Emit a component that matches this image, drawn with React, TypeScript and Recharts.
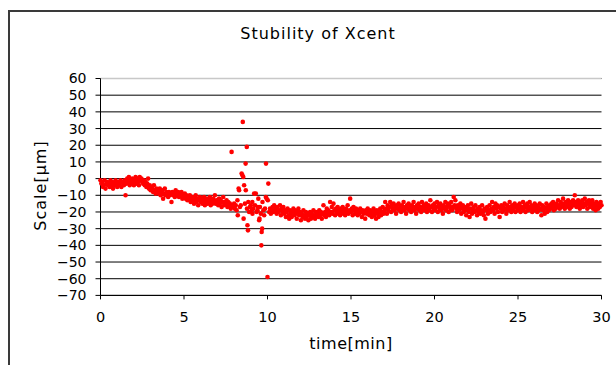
import { CartesianGrid, ReferenceLine, Scatter, ScatterChart, XAxis, YAxis } from "recharts";

// [time (min), scale (µm)], split by stretch of the run
const warmup: [number, number][] = [
  [0, -1], [0.05, -3], [0.1, -2], [0.15, -5], [0.2, -4], [0.25, -1], [0.3, -6], [0.35, -3], [0.4, -2], [0.45, -4],
  [0.5, -3], [0.55, -5], [0.6, -1], [0.65, -4], [0.7, -2], [0.75, -6], [0.8, -3], [0.85, -4], [0.9, -1], [0.95, -3],
  [1.0, -5], [1.05, -2], [1.1, -4], [1.15, -3], [1.2, -1], [1.25, -5], [1.3, -2], [1.35, -3], [1.4, -4], [1.45, -1],
  [1.5, -10], [1.55, -3], [1.6, 0], [1.65, -2], [1.7, 1], [1.75, -4], [1.8, -1], [1.85, -3], [1.9, 0], [1.95, -2],
  [2.0, -4], [2.05, -1], [2.1, 1], [2.15, -3], [2.2, 0], [2.25, -2], [2.3, -4], [2.35, 1], [2.4, -1], [2.45, 0],
  [2.5, -2], [2.55, -3], [2.6, -1], [2.65, -4], [2.7, -2], [2.75, -5], [2.8, -3], [2.85, 0], [2.9, -6], [2.95, -4],
  [3.0, -7], [3.05, -5], [3.1, -6], [3.15, -8], [3.2, -4], [3.25, -7], [3.3, -9], [3.35, -6], [3.4, -8], [3.45, -7],
  [3.5, -9], [3.55, -6], [3.6, -10], [3.65, -8], [3.7, -7], [3.75, -12], [3.8, -9], [3.85, -6], [3.9, -10], [3.95, -8],
  [4.0, -9], [4.05, -11], [4.1, -8], [4.15, -10], [4.2, -9], [4.25, -14], [4.3, -8], [4.35, -10], [4.4, -9], [4.45, -11],
  [4.5, -7], [4.55, -10], [4.6, -9], [4.65, -8], [4.7, -11], [4.75, -9], [4.8, -10], [4.85, -8], [4.9, -12], [4.95, -10],
];

const settling: [number, number][] = [
  [5.0, -11], [5.05, -9], [5.1, -12], [5.15, -10], [5.2, -13], [5.25, -11], [5.3, -12], [5.35, -10], [5.4, -14], [5.45, -12],
  [5.5, -11], [5.55, -13], [5.6, -15], [5.65, -12], [5.7, -10], [5.75, -14], [5.8, -12], [5.85, -16], [5.9, -13], [5.95, -11],
  [6.0, -14], [6.05, -12], [6.1, -15], [6.15, -13], [6.2, -11], [6.25, -16], [6.3, -14], [6.35, -12], [6.4, -15], [6.45, -13],
  [6.5, -14], [6.55, -11], [6.6, -16], [6.65, -13], [6.7, -15], [6.75, -12], [6.8, -14], [6.85, -10], [6.9, -15], [6.95, -13],
  [7.0, -14], [7.05, -16], [7.1, -12], [7.15, -15], [7.2, -13], [7.25, -17], [7.3, -14], [7.35, -11], [7.4, -16], [7.45, -14],
  [7.5, -15], [7.55, -13], [7.6, -17], [7.65, -14], [7.7, -16], [7.75, -15], [7.8, -18], [7.85, 16], [7.9, -16], [7.95, -17],
];

// the disturbance around 8-10 min
const disturbance: [number, number][] = [
  [8.0, -15], [8.05, -18], [8.1, -16], [8.15, -19], [8.2, -13], [8.22, -22], [8.27, -6], [8.3, -7], [8.35, -17], [8.4, -16],
  [8.45, 3], [8.5, 2], [8.52, 34], [8.55, 1], [8.57, -24], [8.6, -4], [8.65, -15], [8.69, 9], [8.7, -7], [8.76, 19],
  [8.77, -18], [8.8, -28], [8.83, -31], [8.85, -14], [8.9, -20], [8.95, -17], [9.0, -16], [9.05, -19], [9.09, -14], [9.1, -21],
  [9.15, -18], [9.2, -9], [9.25, -16], [9.3, -9], [9.35, -20], [9.4, -19], [9.42, -17], [9.45, -12], [9.5, -25], [9.52, -24],
  [9.55, -17], [9.6, -21], [9.63, -40], [9.65, -32], [9.68, -30], [9.7, -14], [9.75, -19], [9.8, -22], [9.85, -18], [9.91, 9],
  [9.9, -11], [9.95, -12], [10.0, -59], [10.02, -13], [10.05, -3], [10.1, -20], [10.15, -18], [10.2, -21], [10.25, -19], [10.3, -17],
];

const middle: [number, number][] = [
  [10.35, -20], [10.4, -16], [10.45, -19], [10.5, -18], [10.55, -21], [10.6, -17], [10.65, -20], [10.7, -19], [10.75, -16], [10.8, -22],
  [10.85, -18], [10.9, -20], [10.95, -17], [11.0, -21], [11.05, -19], [11.1, -23], [11.15, -20], [11.2, -18], [11.25, -22], [11.3, -24],
  [11.35, -19], [11.4, -21], [11.45, -23], [11.5, -20], [11.55, -18], [11.6, -22], [11.65, -19], [11.7, -21], [11.75, -24], [11.8, -20],
  [11.85, -18], [11.9, -22], [11.95, -20], [12.0, -25], [12.05, -21], [12.1, -23], [12.15, -19], [12.2, -22], [12.25, -24], [12.3, -20],
  [12.35, -23], [12.4, -21], [12.45, -25], [12.5, -22], [12.55, -20], [12.6, -24], [12.65, -21], [12.7, -23], [12.75, -19], [12.8, -22],
  [12.85, -24], [12.9, -20], [12.95, -22], [13.0, -21], [13.05, -23], [13.1, -19], [13.15, -22], [13.2, -20], [13.25, -24], [13.3, -21],
  [13.35, -16], [13.4, -22], [13.45, -20], [13.5, -23], [13.55, -18], [13.6, -21], [13.65, -19], [13.7, -22], [13.75, -14], [13.8, -20],
  [13.85, -17], [13.9, -21], [13.95, -15], [14.0, -19], [14.05, -22], [14.1, -18], [14.15, -20], [14.2, -17], [14.25, -21], [14.3, -19],
  [14.35, -22], [14.4, -18], [14.45, -20], [14.5, -17], [14.55, -21], [14.6, -19], [14.65, -22], [14.7, -18], [14.75, -20], [14.8, -16],
  [14.85, -21], [14.9, -19], [14.95, -12], [15.0, -20], [15.05, -18], [15.1, -22], [15.15, -17], [15.2, -19], [15.25, -21], [15.3, -18],
  [15.35, -20], [15.4, -22], [15.45, -19], [15.5, -21], [15.55, -18], [15.6, -20], [15.65, -23], [15.7, -19], [15.75, -21], [15.8, -20],
  [15.85, -24], [15.9, -19], [15.95, -21], [16.0, -18], [16.05, -20], [16.1, -22], [16.15, -19], [16.2, -21], [16.25, -23], [16.3, -20],
  [16.35, -18], [16.4, -22], [16.45, -20], [16.5, -24], [16.55, -19], [16.6, -21], [16.65, -23], [16.7, -20], [16.75, -18], [16.8, -22],
  [16.85, -20], [16.9, -17], [16.95, -21], [17.0, -19], [17.05, -14], [17.1, -18], [17.15, -21], [17.2, -16], [17.25, -19], [17.3, -17],
  [17.35, -14], [17.4, -20], [17.45, -16], [17.5, -18], [17.55, -15], [17.6, -19], [17.65, -17], [17.7, -21], [17.75, -16], [17.8, -18],
  [17.85, -15], [17.9, -19], [17.95, -17], [18.0, -20], [18.05, -16], [18.1, -18], [18.15, -14], [18.2, -19], [18.25, -17], [18.3, -21],
  [18.35, -16], [18.4, -18], [18.45, -15], [18.5, -19], [18.55, -17], [18.6, -20], [18.65, -16], [18.7, -18], [18.75, -14], [18.8, -19],
  [18.85, -17], [18.9, -21], [18.95, -16], [19.0, -18], [19.05, -15], [19.1, -19], [19.15, -17], [19.2, -20], [19.25, -14], [19.3, -18],
  [19.35, -16], [19.4, -19], [19.45, -17], [19.5, -15], [19.55, -20], [19.6, -18], [19.65, -16], [19.7, -19], [19.75, -13], [19.8, -17],
  [19.85, -20], [19.9, -16], [19.95, -18],
];

const late: [number, number][] = [
  [20.0, -15], [20.05, -19], [20.1, -17], [20.15, -14], [20.2, -20], [20.25, -16], [20.3, -18],
  [20.35, -15], [20.4, -19], [20.45, -17], [20.5, -21], [20.55, -16], [20.6, -18], [20.65, -14], [20.7, -19], [20.75, -17], [20.8, -15],
  [20.85, -20], [20.9, -16], [20.95, -18], [21.0, -14], [21.05, -19], [21.1, -17], [21.15, -11], [21.2, -16], [21.25, -13], [21.3, -18],
  [21.35, -20], [21.4, -16], [21.45, -19], [21.5, -17], [21.55, -15], [21.6, -21], [21.65, -18], [21.7, -16], [21.75, -20], [21.8, -17],
  [21.85, -19], [21.9, -22], [21.95, -18], [22.0, -16], [22.05, -20], [22.1, -23], [22.15, -18], [22.2, -15], [22.25, -21], [22.3, -19],
  [22.35, -17], [22.4, -20], [22.45, -16], [22.5, -19], [22.55, -22], [22.6, -18], [22.65, -20], [22.7, -17], [22.75, -21], [22.8, -19],
  [22.85, -16], [22.9, -20], [22.95, -22], [23.0, -18], [23.05, -24], [23.1, -19], [23.15, -17], [23.2, -21], [23.25, -19], [23.3, -16],
  [23.35, -20], [23.4, -18], [23.45, -14], [23.5, -19], [23.55, -17], [23.6, -21], [23.65, -15], [23.7, -18], [23.75, -16], [23.8, -20],
  [23.85, -17], [23.9, -23], [23.95, -18], [24.0, -16], [24.05, -20], [24.1, -17], [24.15, -19], [24.2, -15], [24.25, -18], [24.3, -21],
  [24.35, -16], [24.4, -19], [24.45, -17], [24.5, -14], [24.55, -18], [24.6, -20], [24.65, -16], [24.7, -19], [24.75, -17], [24.8, -15],
  [24.85, -20], [24.9, -17], [24.95, -19], [25.0, -16], [25.05, -18], [25.1, -15], [25.15, -20], [25.2, -17], [25.25, -19], [25.3, -14],
  [25.35, -18], [25.4, -16], [25.45, -20], [25.5, -17], [25.55, -15], [25.6, -19], [25.65, -17], [25.7, -14], [25.75, -18], [25.8, -16],
  [25.85, -20], [25.9, -17], [25.95, -19], [26.0, -15], [26.05, -18], [26.1, -16], [26.15, -20], [26.2, -17], [26.25, -19], [26.3, -15],
  [26.35, -18], [26.4, -22], [26.45, -16], [26.5, -19], [26.55, -17], [26.6, -21], [26.65, -18], [26.7, -15], [26.75, -20], [26.8, -17],
  [26.85, -19], [26.9, -16], [26.95, -18], [27.0, -15], [27.05, -17], [27.1, -14], [27.15, -19], [27.2, -16], [27.25, -18], [27.3, -15],
  [27.35, -17], [27.4, -13], [27.45, -16], [27.5, -18], [27.55, -14], [27.6, -17], [27.65, -15], [27.7, -12], [27.75, -16], [27.8, -18],
  [27.85, -14], [27.9, -17], [27.95, -15], [28.0, -13], [28.05, -16], [28.1, -18], [28.15, -14], [28.2, -17], [28.25, -15], [28.3, -13],
  [28.35, -16], [28.4, -10], [28.45, -14], [28.5, -17], [28.55, -15], [28.6, -13], [28.65, -16], [28.7, -18], [28.75, -14], [28.8, -16],
  [28.85, -13], [28.9, -17], [28.95, -15], [29.0, -12], [29.05, -16], [29.1, -14], [29.15, -18], [29.2, -15], [29.25, -13], [29.3, -17],
  [29.35, -14], [29.4, -16], [29.45, -13], [29.5, -18], [29.55, -15], [29.6, -17], [29.65, -19], [29.7, -14], [29.75, -16], [29.8, -18],
  [29.85, -15], [29.9, -17], [29.95, -14], [30.0, -16],
];

const xTicks = [0, 5, 10, 15, 20, 25, 30];
const yTicks = [-70, -60, -50, -40, -30, -20, -10, 0, 10, 20, 30, 40, 50, 60];

const points = [...warmup, ...settling, ...disturbance, ...middle, ...late].map(([t, v]) => ({ t, v }));

const FONT = "'DejaVu Sans', sans-serif";

// Excel draws negatives with a long minus
const minus = (v: number) => (v < 0 ? `\u2212${Math.abs(v)}` : String(v));

/* eslint-disable @typescript-eslint/no-explicit-any */
const Dot = (p: any) => <circle cx={p.cx} cy={p.cy} r={2.3} fill="#ff0000" />;
/* eslint-enable @typescript-eslint/no-explicit-any */

export default function App() {
  return (
    <div
      style={{
        position: "fixed",
        left: 0,
        top: 0,
        width: 616,
        height: 365,
        overflow: "hidden",
        background: "#fff",
        fontFamily: FONT,
        color: "#000",
      }}
    >
      {/* chart-area frame, runs off the right and bottom */}
      <div
        style={{
          position: "absolute",
          left: 8,
          top: 10,
          width: 700,
          height: 400,
          borderTop: "2px solid #3a3a3a",
          borderLeft: "2px solid #3a3a3a",
        }}
      />
      <ScatterChart
        width={616}
        height={365}
        margin={{ top: 78.5, right: 14.5, bottom: 39.6, left: 40.5 }}
        style={{ position: "absolute", left: 0, top: 0 }}
      >
        <CartesianGrid vertical={false} stroke="#000" />
        <XAxis
          type="number"
          dataKey="t"
          domain={[0, 30]}
          ticks={xTicks}
          interval={0}
          height={30}
          tickSize={4}
          tickMargin={12}
          stroke="#000"
          tick={{ fill: "#000", fontSize: 14.5, fontFamily: FONT }}
        />
        <YAxis
          type="number"
          dataKey="v"
          domain={[-70, 60]}
          ticks={yTicks}
          interval={0}
          width={60}
          tickSize={5}
          tickMargin={9}
          tickFormatter={minus}
          stroke="#000"
          tick={{ fill: "#000", fontSize: 14, fontFamily: FONT }}
        />
        <ReferenceLine y={60} stroke="#c8c8c8" strokeWidth={1.5} />
        <Scatter data={points} shape={Dot} isAnimationActive={false} />
      </ScatterChart>
      <div
        style={{
          position: "absolute",
          left: 218,
          width: 200,
          top: 24,
          textAlign: "center",
          fontSize: 16,
          letterSpacing: 1,
        }}
      >
        Stubility of Xcent
      </div>
      <div
        style={{
          position: "absolute",
          left: 40 - 60,
          width: 120,
          top: 186 - 10,
          textAlign: "center",
          fontSize: 16,
          letterSpacing: 1,
          transform: "rotate(-90deg)",
        }}
      >
        Scale[μm]
      </div>
      <div
        style={{
          position: "absolute",
          left: 251,
          width: 200,
          top: 334,
          textAlign: "center",
          fontSize: 16,
          letterSpacing: 0.5,
        }}
      >
        time[min]
      </div>
    </div>
  );
}
